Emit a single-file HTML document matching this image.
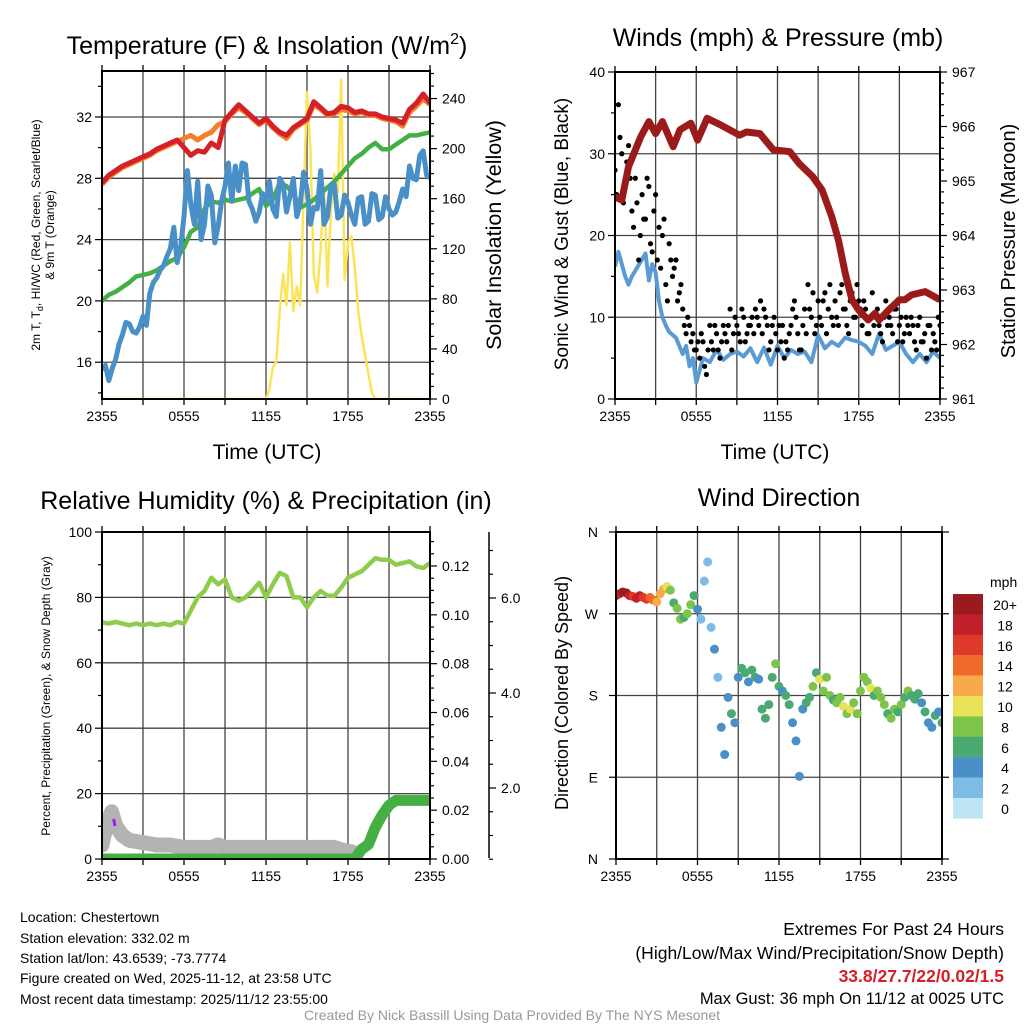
<!DOCTYPE html>
<html><head><meta charset="utf-8"><style>
html,body{margin:0;padding:0;background:#fff}
svg{display:block;font-family:"Liberation Sans",Arial,sans-serif}
</style></head><body>
<svg id="s" width="1024" height="1024" viewBox="0 0 1024 1024" xmlns="http://www.w3.org/2000/svg">
<defs>
<clipPath id="c1"><rect x="102" y="71" width="328" height="328"/></clipPath>
<clipPath id="c2"><rect x="615" y="72" width="325" height="327"/></clipPath>
<clipPath id="c3"><rect x="102" y="532" width="328" height="327"/></clipPath>
<clipPath id="c4"><rect x="616" y="532" width="326" height="327"/></clipPath>
</defs>
<g id="g1"></g>
<g id="g2"></g>
<g id="g3"></g>
<g id="g4"></g>
<text x="267" y="54" font-size="25" text-anchor="middle">Temperature (F) &amp; Insolation (W/m<tspan dy="-10" font-size="16">2</tspan><tspan dy="10">)</tspan></text>
<text x="778" y="46" font-size="25" text-anchor="middle">Winds (mph) &amp; Pressure (mb)</text>
<text x="266" y="509" font-size="25" text-anchor="middle">Relative Humidity (%) &amp; Precipitation (in)</text>
<text x="779" y="506" font-size="25" text-anchor="middle">Wind Direction</text>
<text x="267" y="459" font-size="21" text-anchor="middle">Time (UTC)</text>
<text x="775" y="459" font-size="21" text-anchor="middle">Time (UTC)</text>
<text transform="translate(40,235) rotate(-90)" font-size="12" text-anchor="middle">2m T, T<tspan dy="3" font-size="9">d</tspan><tspan dy="-3">, HI/WC (Red, Green, Scarlet/Blue)</tspan></text>
<text transform="translate(54,235) rotate(-90)" font-size="12" text-anchor="middle">&amp; 9m T (Orange)</text>
<text transform="translate(501,235) rotate(-90)" font-size="21.5" text-anchor="middle">Solar Insolation (Yellow)</text>
<text transform="translate(568,234) rotate(-90)" font-size="19" text-anchor="middle">Sonic Wind &amp; Gust (Blue, Black)</text>
<text transform="translate(1015,241) rotate(-90)" font-size="20" text-anchor="middle">Station Pressure (Maroon)</text>
<text transform="translate(50,696) rotate(-90)" font-size="12" text-anchor="middle">Percent, Precipitation (Green), &amp; Snow Depth (Gray)</text>
<text transform="translate(568,693) rotate(-90)" font-size="18" text-anchor="middle">Direction (Colored By Speed)</text>
<g font-size="14">
<text x="20" y="922">Location: Chestertown</text>
<text x="20" y="943">Station elevation: 332.02 m</text>
<text x="20" y="963">Station lat/lon: 43.6539; -73.7774</text>
<text x="20" y="983">Figure created on Wed, 2025-11-12, at 23:58 UTC</text>
<text x="20" y="1004">Most recent data timestamp: 2025/11/12 23:55:00</text>
</g>
<g font-size="17.5" text-anchor="end">
<text x="1004" y="935">Extremes For Past 24 Hours</text>
<text x="1004" y="959">(High/Low/Max Wind/Precipitation/Snow Depth)</text>
<text x="1004" y="982" fill="#d42027" font-weight="bold">33.8/27.7/22/0.02/1.5</text>
<text x="1004" y="1004" font-size="16.5">Max Gust: 36 mph On 11/12 at 0025 UTC</text>
</g>
<text x="512" y="1020" font-size="14" fill="#999" text-anchor="middle">Created By Nick Bassill Using Data Provided By The NYS Mesonet</text>
</svg>
<script>
// ---- data ----
const xTickLabels = ["2355","0555","1155","1755","2355"];
const tempT = [27.7,28.2,28.5,28.8,29.0,29.2,29.4,29.6,29.9,30.1,30.3,30.5,30.0,29.5,29.8,29.7,30.3,30.0,31.8,32.3,32.8,32.4,32.0,31.6,31.9,31.4,31.0,30.8,31.3,31.6,31.9,33.0,32.6,32.2,32.3,32.7,32.6,32.3,32.4,32.2,32.2,32.0,31.9,31.8,31.6,32.5,32.9,33.5,32.9];
const temp9m = [27.6,28.1,28.4,28.7,28.9,29.1,29.3,29.5,29.8,30.0,30.2,30.4,30.6,30.8,30.5,30.8,31.0,31.5,31.7,32.2,32.6,32.3,31.9,31.5,31.8,31.3,30.9,30.6,31.2,31.5,31.8,32.8,32.5,32.1,32.2,32.5,32.4,32.2,32.3,32.1,32.1,31.9,31.8,31.7,31.4,32.3,32.7,33.2,32.8];
const dewT = [20.0,20.4,20.6,20.9,21.2,21.6,21.7,21.8,22.0,22.3,22.6,22.8,23.5,24.5,24.8,26.0,26.5,26.4,26.6,26.5,26.6,26.7,27.0,27.3,26.2,26.6,27.7,27.5,27.0,26.1,26.3,26.6,27.0,27.4,27.8,28.3,28.8,29.3,29.6,30.0,30.3,29.9,29.9,30.2,30.5,30.8,30.8,30.9,31.0];
const chillT = [15.5,15.8,14.8,15.6,16.2,17.2,17.8,18.6,18.5,
18.0,17.9,18.3,19.0,18.4,20.5,21.2,21.5,
22.0,22.3,22.9,23.4,24.8,22.5,23.5,25.5,
28.5,26.3,25.0,27.8,24.0,25.0,27.5,26.9,
23.8,24.9,26.5,27.5,29.0,26.5,28.8,27.2,
29.0,28.9,26.5,26.0,25.2,25.8,27.0,26.5,
27.8,26.0,25.5,28.0,27.6,25.8,26.8,28.0,
25.5,26.3,28.4,27.3,25.0,26.1,26.0,28.5,
25.0,25.5,27.5,27.6,25.4,25.6,26.9,26.4,
25.6,25.0,26.7,26.8,25.0,25.2,27.0,26.9,
25.3,25.5,26.8,26.0,25.6,25.8,26.5,27.3,
26.8,28.8,28.0,27.9,29.5,29.8,28.2,28.0];
const solarHours = [0,12,12.25,12.5,12.75,13,13.25,13.5,13.75,14,14.25,14.5,14.75,15,15.25,15.5,15.75,16,16.25,16.5,16.75,17,17.25,17.5,17.75,18,18.25,18.5,18.75,19,19.25,19.5,19.75,20,24];
const solarW = [0,0,8,25,30,70,100,75,125,70,90,75,160,245,200,100,85,120,170,90,150,180,165,255,95,125,130,105,70,50,35,20,5,0,0];
const sonicWind = [16.2,18,15,14,15,17.8,14.5,16.5,15.5,12,10,9,8.2,7.5,5.5,6.5,4.0,5.0,2.0,3.5,5.0,4.5,6.0,4.8,5.5,5.8,5.2,6.2,4.5,6.3,4.2,6.5,5.0,6.0,5.5,5.8,4.5,7.8,6.2,7.0,6.5,7.5,7.2,7.0,6.5,5.5,8.0,6.0,6.5,7.0,5.5,4.5,5.5,4.5,5.8,5.0];
const sonicHours = [0,0.25,0.75,1,1.25,2.25,2.5,2.75,3,3.25,3.5,3.75,4,4.5,5,5.25,5.5,5.75,6,6.25,6.5,7,7.5,8,8.5,9,9.5,10,10.5,11,11.5,12,12.5,13,13.5,14,14.5,15,15.5,16,16.5,17,17.5,18,18.5,19,19.5,20,20.5,21,21.5,22,22.5,23,23.5,24];
const gust = [28,36,30,26,31,23,27,17,25, 22,26,18,25,21,20,14,19, 15,17,13,11,8,9,8,6, 5,7,3,9,6,8,5,9, 7,11,8,9,7,10,8,9, 8,10,12,11,9,7,10,6, 7,5,6,9,12,8,6,11, 14,10,8,12,9,13,11,10, 12,9,14,11,8,13,10,12, 9,11,8,13,10,9,7,12, 10,8,11,9,7,10,8,9, 6,10,7,5,9,8,6,9];
const gust2 = [25,32,24,29,27,21,24,20,22, 27,19,23,17,16,22,12,17, 16,12,14,9,10,7,6,7, 8,4,6,7,9,6,7,8, 9,6,10,8,11,7,9,10, 11,9,8,10,6,9,8,9, 9,7,8,11,10,6,9,8, 11,13,9,10,12,8,14,9, 10,13,11,9,12,10,14,11, 12,8,10,9,11,8,10,9, 9,11,7,10,8,9,10,7, 9,7,8,9,6,7,10,8];
const pressHours = [0,0.5,1,1.9,2.5,3,3.5,4.3,4.8,5.6,6.1,6.8,7.8,9.2,9.7,10.7,11.7,12.9,13.6,14.6,15.3,16,16.5,17,17.5,18,18.7,19.2,19.5,20.2,21,21.4,21.9,22.9,24];
const pressMb = [964.71,964.65,965.26,965.81,966.09,965.87,966.09,965.63,965.94,966.06,965.75,966.15,966.03,965.84,965.90,965.87,965.57,965.54,965.32,965.08,964.83,964.35,963.92,963.31,962.82,962.63,962.45,962.57,962.45,962.63,962.82,962.82,962.91,962.97,962.82];
const rhPct = [72.4,72,72.5,72,71.5,72,71.5,72,71.5,72,71.5,72.5,72,76,80,82,86,84,85.5,80,79,80,82,84.5,80,84,87.5,86.5,80,80,77,80,82,80.5,80.5,83,86,87,88,90,92,91.5,91.5,90,90.5,91,89.5,89,90.5];
const precipHours = [0,18.5,19,19.5,20,20.5,21,21.5,24];
const precipIn = [0,0,0.004,0.006,0.013,0.018,0.022,0.024,0.024];
const snowHours = [0,0.3,0.7,1,1.5,2,3,4,5,6,8,8.5,9,12,15,17,17.5,18.3];
const snowIn = [0.8,1.2,1.5,1.2,1.0,0.9,0.85,0.8,0.8,0.75,0.75,0.8,0.75,0.75,0.75,0.75,0.7,0.65];
const windDir = [290,292,294,293,290,289,287,290,288,286,288,285,283,292,297,300,296,282,276,264,266,270,280,290,
275,264,306,327,255,231,200,145,115,178,160,150,200,210,205,195,208,200,198,165,155,170,200,215,190,185,180,170,150,130,91,165,172,178,190,205,198,185,200,180,175,172,178,168,160,165,172,160,185,200,195,188,180,185,178,170,160,155,165,162,170,178,185,180,176,182,172,162,150,145,158,162,150];
const windSpd = [17,18,20,19,17,16,18,17,15,16,14,13,12,12,11,10,8,6,7,8,6,7,8,6,
3,2,2,1,2,3,2,4,3,4,5,4,4,5,6,4,5,6,4,5,6,5,6,7,5,4,5,6,4,4,4,4,5,6,7,6,9,7,7,8,6,8,7,9,8,10,8,7,8,8,7,9,6,7,8,8,6,7,7,6,7,6,7,6,6,6,4,5,4,4,6,4,6];
const speedLabels = ["20+","18","16","14","12","10","8","6","4","2","0"];
const speedColors = ["#9b1a1d","#c0202a","#e0392b","#f06a2c","#f8a94a","#e8e25a","#7ec44a","#4aaa72","#4a8fc8","#7cbce6","#bfe5f5"];

// ---- helpers ----
const NS="http://www.w3.org/2000/svg";
function mk(parent,tag,attrs){const e=document.createElementNS(NS,tag);for(const k in attrs)e.setAttribute(k,attrs[k]);parent.appendChild(e);return e;}
function lin(d0,d1,r0,r1){return v=>r0+(v-d0)/(d1-d0)*(r1-r0);}
function pathFrom(xsArr,ysArr){return xsArr.map((x,i)=>(i?"L":"M")+x.toFixed(1)+","+ysArr[i].toFixed(1)).join("");}
function halfHours(n){return Array.from({length:n},(_,i)=>i*0.5);}
function quarterHours(n){return Array.from({length:n},(_,i)=>i*0.25);}

function frame(g,P){
  for(let h=3;h<24;h+=3){const x=P.x(h);
    const l=mk(g,"line",{x1:x,x2:x,y1:P.y0,y2:P.y1,stroke:"#444","stroke-width":1.3});
    
    }
  P.hgrid.forEach(y=>{const l=mk(g,"line",{x1:P.x0,x2:P.x1,y1:y,y2:y,stroke:"#444","stroke-width":1.3});
    
    });
  for(let h=0;h<=24;h+=3){const x=P.x(h);
    mk(g,"line",{x1:x,x2:x,y1:P.y1,y2:P.y1+6,stroke:"#000","stroke-width":1.3});
    mk(g,"line",{x1:x,x2:x,y1:P.y0,y2:P.y0-6,stroke:"#000","stroke-width":1.3});}
  xTickLabels.forEach((lab,i)=>{const t=mk(g,"text",{x:P.x(i*6),y:P.y1+22,"font-size":14,"text-anchor":"middle"});t.textContent=lab;
    
    });
}
function box(g,P){const r=mk(g,"rect",{x:P.x0,y:P.y0,width:P.x1-P.x0,height:P.y1-P.y0,fill:"none",stroke:"#000","stroke-width":2});
  
  }
function yTicks(g,xAx,scale,vals,majorEvery,labelFmt,side,len){
  vals.forEach(v=>{const y=scale(v);const major=Math.abs(v/majorEvery-Math.round(v/majorEvery))<1e-6;
    const L=major?(len||7):4;
    mk(g,"line",{x1:xAx,x2:xAx+(side<0?-L:L),y1:y,y2:y,stroke:"#000","stroke-width":1.2});
    if(major&&labelFmt){const t=mk(g,"text",{x:xAx+(side<0?-10:12),y:y+5,"font-size":14,"text-anchor":side<0?"end":"start"});t.textContent=labelFmt(v);
      
      }});
}
function range(a,b,s){const r=[];for(let v=a;v<=b+1e-9;v+=s)r.push(+v.toFixed(4));return r;}

// ---- Panel 1 ----
(function(){
  const g=document.getElementById("g1");
  const P={x0:102,x1:430,y0:71,y1:399};P.x=lin(0,24,P.x0,P.x1);
  const yT=lin(13.6,35.0,399,71), yS=lin(0,262,399,71);
  P.hgrid=[16,20,24,28,32].map(yT);
  frame(g,P);
  const cg=mk(g,"g",{"clip-path":"url(#c1)"});
  const hh=halfHours(49).map(P.x);
  const sol=mk(cg,"path",{d:pathFrom(solarHours.map(P.x),solarW.map(yS)),fill:"none",stroke:"#fce45a","stroke-width":2.5,"stroke-linejoin":"round"});
  
  
  const gr=mk(cg,"path",{d:pathFrom(hh,dewT.map(yT)),fill:"none",stroke:"#44b044","stroke-width":4.5,"stroke-linejoin":"round"});
  
  
  const bl=mk(cg,"path",{d:pathFrom(quarterHours(97).map(P.x),chillT.map(yT)),fill:"none",stroke:"#4a90c8","stroke-width":5,"stroke-linejoin":"round"});
  
  
  const or=mk(cg,"path",{d:pathFrom(hh,temp9m.map(yT)),fill:"none",stroke:"#f57f2a","stroke-width":5,"stroke-linejoin":"round"});
  
  
  const rd=mk(cg,"path",{d:pathFrom(hh,tempT.map(yT)),fill:"none",stroke:"#d42027","stroke-width":5,"stroke-linejoin":"round"});
  
  
  box(g,P);
  yTicks(g,102,yT,range(14,34,2),4,v=>v,-1);
  yTicks(g,430,yS,range(0,260,10),40,v=>v,1);
})();

// ---- Panel 2 ----
(function(){
  const g=document.getElementById("g2");
  const P={x0:615,x1:940,y0:72,y1:399};P.x=lin(0,24,P.x0,P.x1);
  const yW=lin(0,40,399,72), yP=lin(961,967,399,72);
  P.hgrid=[10,20,30].map(yW);
  frame(g,P);
  const cg=mk(g,"g",{"clip-path":"url(#c2)"});
  const sw=mk(cg,"path",{d:pathFrom(sonicHours.map(P.x),sonicWind.map(yW)),fill:"none",stroke:"#5a9bd5","stroke-width":4,"stroke-linejoin":"round"});
  
  
  const q=quarterHours(97);
  gust.forEach((v,i)=>{const c=mk(cg,"circle",{cx:P.x(q[i]),cy:yW(v),r:2.6,fill:"#000"});
    
    });
  gust2.forEach((v,i)=>{const c=mk(cg,"circle",{cx:P.x(q[i]+0.12),cy:yW(v),r:2.6,fill:"#000"});
    
    });
  const pr=mk(cg,"path",{d:pathFrom(pressHours.map(P.x),pressMb.map(yP)),fill:"none",stroke:"#9b1b1b","stroke-width":7,"stroke-linejoin":"round"});
  
  
  box(g,P);
  yTicks(g,615,yW,range(0,40,5),10,v=>v,-1);
  yTicks(g,940,yP,range(961,967,0.2),1,v=>v,1);
})();

// ---- Panel 3 ----
(function(){
  const g=document.getElementById("g3");
  const P={x0:102,x1:430,y0:532,y1:859};P.x=lin(0,24,P.x0,P.x1);
  const yR=lin(0,100,859,532), yPr=lin(0,0.12,859,566), ySn=lin(0,2,883,788);
  P.hgrid=[20,40,60,80].map(yR);
  frame(g,P);
  const cg=mk(g,"g",{"clip-path":"url(#c3)"});
  const sn=mk(cg,"path",{d:pathFrom(snowHours.map(P.x),snowIn.map(ySn)),fill:"none",stroke:"#b3b3b3","stroke-width":15,"stroke-linejoin":"round","stroke-linecap":"round"});
  
  
  const pu=mk(cg,"line",{x1:P.x(0.85),y1:ySn(1.35),x2:P.x(0.95),y2:ySn(1.2),stroke:"#a020f0","stroke-width":3});
  
  
  const pp=mk(cg,"path",{d:pathFrom(precipHours.map(P.x),precipIn.map(yPr)),fill:"none",stroke:"#44b044","stroke-width":11,"stroke-linejoin":"round","stroke-linecap":"round"});
  
  
  const rh=mk(cg,"path",{d:pathFrom(halfHours(49).map(P.x),rhPct.map(yR)),fill:"none",stroke:"#8fcc4e","stroke-width":4.5,"stroke-linejoin":"round"});
  
  
  box(g,P);
  yTicks(g,102,yR,range(0,100,10),20,v=>v,-1);
  yTicks(g,430,yPr,range(0,0.13,0.005),0.02,v=>v.toFixed(2),1);
  const ax=mk(g,"line",{x1:489,x2:489,y1:532,y2:858,stroke:"#000","stroke-width":1.5});
  
  
  yTicks(g,489,ySn,range(0.5,7,0.5),2,v=>v.toFixed(1),1);
})();

// ---- Panel 4 ----
(function(){
  const g=document.getElementById("g4");
  const P={x0:616,x1:942,y0:532,y1:859};P.x=lin(0,24,P.x0,P.x1);
  const yD=lin(0,360,859,532);
  P.hgrid=[90,180,270].map(yD);
  frame(g,P);
  const dirLabels=["N","E","S","W","N"];
  dirLabels.forEach((lab,i)=>{const y=yD(i*90);
    mk(g,"line",{x1:616,x2:609,y1:y,y2:y,stroke:"#000","stroke-width":1.2});
    mk(g,"line",{x1:942,x2:949,y1:y,y2:y,stroke:"#000","stroke-width":1.2});
    const t=mk(g,"text",{x:598,y:y+5,"font-size":14,"text-anchor":"end"});t.textContent=lab;
    
    });
  const cg=mk(g,"g",{"clip-path":"url(#c4)"});
  const q=quarterHours(97);
  windDir.forEach((d,i)=>{const idx=10-Math.min(10,Math.round(windSpd[i]/2));
    const c=mk(cg,"circle",{cx:P.x(q[i]),cy:yD(d),r:4.5,fill:speedColors[idx]});
    
    });
  box(g,P);
  const lg=mk(g,"g",{});
  
  
  const t0=mk(lg,"text",{x:990,y:587,"font-size":14}); t0.textContent="mph";
  
  
  speedLabels.forEach((lab,i)=>{const y=594+i*20.4;
    const r=mk(lg,"rect",{x:953,y:y,width:30,height:20.6,fill:speedColors[i]});
    
    
    const t=mk(lg,"text",{x:1005,y:y+16,"font-size":14,"text-anchor":"middle"});t.textContent=lab;
    
    });
})();
</script>
</body></html>
